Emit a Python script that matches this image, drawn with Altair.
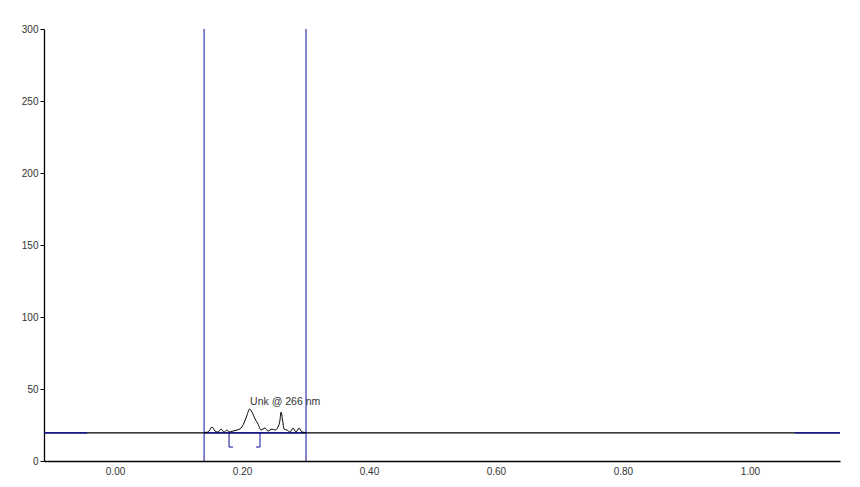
import altair as alt
import pandas as pd

# Chromatogram trace (retention time, response)
trace_x = [0.1402, 0.1465, 0.1528, 0.1575, 0.1622, 0.1669, 0.1717, 0.1764, 0.1795,
           0.1858, 0.1921, 0.1984, 0.2031, 0.2079, 0.2118, 0.2157, 0.2205, 0.2252,
           0.2299, 0.2362, 0.2409, 0.2472, 0.2520, 0.2567, 0.2598, 0.2614, 0.2638,
           0.2661, 0.2709, 0.2756, 0.2803, 0.2850, 0.2898, 0.2945, 0.3008]
trace_y = [19.8, 20.1, 23.6, 20.8, 20.1, 22.2, 20.1, 21.5, 20.1,
           20.8, 21.5, 22.9, 26.4, 31.9, 36.1, 34.0, 29.2, 25.7,
           21.5, 22.9, 20.8, 22.2, 21.5, 23.6, 28.5, 34.0, 28.5,
           22.2, 21.5, 20.1, 22.9, 20.1, 22.9, 20.1, 19.8]

x_min, x_max = -0.112, 1.142
baseline = 19.5
window = [0.1402, 0.3008]          # vertical blue markers
blue_segments = [(-0.112, -0.044), (0.1402, 0.3008), (1.071, 1.142)]
peak_start, peak_end = 0.1795, 0.2283
bracket_low = 9.7
bracket_tick = 0.0063
label_text = "Unk @ 266 nm"
label_x, label_y = 0.2126, 41.0

x_ticks = [0.0, 0.2, 0.4, 0.6, 0.8, 1.0]
y_ticks = [0, 50, 100, 150, 200, 250, 300]

BLUE = "#0e0ea0"

xs = alt.Scale(domain=[x_min, x_max], nice=False, zero=False)
ys = alt.Scale(domain=[0, 300], nice=False)

xaxis = alt.Axis(values=x_ticks, format=".2f", ticks=False, grid=False, title=None,
                 labelFont="Liberation Sans", labelFontSize=10, labelColor="#333333",
                 domainColor="black", domainWidth=1.3, labelPadding=5)
yaxis = alt.Axis(values=y_ticks, format="d", grid=False, title=None, tickSize=4,
                 tickColor="black", domainColor="black", domainWidth=1.3,
                 labelFont="Liberation Sans", labelFontSize=10, labelColor="#333333",
                 labelPadding=2)

df_base = pd.DataFrame({"x": [x_min], "x2": [x_max], "y": [baseline]})
base_line = alt.Chart(df_base).mark_rule(color="black", strokeWidth=1.2).encode(
    x=alt.X("x:Q", scale=xs, axis=xaxis), x2="x2:Q",
    y=alt.Y("y:Q", scale=ys, axis=yaxis))

df_blue = pd.DataFrame({"x": [s[0] for s in blue_segments],
                        "x2": [s[1] for s in blue_segments],
                        "y": [baseline] * len(blue_segments)})
blue_h = alt.Chart(df_blue).mark_rule(color=BLUE, strokeWidth=1.2).encode(
    x=alt.X("x:Q", scale=xs), x2="x2:Q", y=alt.Y("y:Q", scale=ys))

df_v = pd.DataFrame({"x": window, "y": [0, 0], "y2": [300, 300]})
vlines = alt.Chart(df_v).mark_rule(color=BLUE, strokeWidth=1).encode(
    x=alt.X("x:Q", scale=xs), y=alt.Y("y:Q", scale=ys), y2="y2:Q")

df_trace = pd.DataFrame({"x": trace_x, "y": trace_y, "o": list(range(len(trace_x)))})
trace = alt.Chart(df_trace).mark_line(color="black", strokeWidth=1, interpolate="monotone").encode(
    x=alt.X("x:Q", scale=xs), y=alt.Y("y:Q", scale=ys), order="o:Q")

# peak brackets
df_br_v = pd.DataFrame({"x": [peak_start, peak_end], "y": [bracket_low] * 2, "y2": [baseline] * 2})
br_v = alt.Chart(df_br_v).mark_rule(color=BLUE, strokeWidth=1).encode(
    x=alt.X("x:Q", scale=xs), y=alt.Y("y:Q", scale=ys), y2="y2:Q")
df_br_h = pd.DataFrame({"x": [peak_start, peak_end - bracket_tick],
                        "x2": [peak_start + bracket_tick, peak_end],
                        "y": [bracket_low] * 2})
br_h = alt.Chart(df_br_h).mark_rule(color=BLUE, strokeWidth=1).encode(
    x=alt.X("x:Q", scale=xs), x2="x2:Q", y=alt.Y("y:Q", scale=ys))

df_lbl = pd.DataFrame({"x": [label_x], "y": [label_y], "t": [label_text]})
label = alt.Chart(df_lbl).mark_text(align="left", baseline="middle", font="Liberation Sans",
                                    fontSize=10.5, color="#333333").encode(
    x=alt.X("x:Q", scale=xs), y=alt.Y("y:Q", scale=ys), text="t:N")

chart = alt.layer(base_line, blue_h, vlines, trace, br_v, br_h, label).properties(
    width=796, height=432,
    autosize=alt.AutoSizeParams(type="none"),
    padding={"left": 36, "top": 21, "right": 10, "bottom": 22},
    background="white",
).configure_view(stroke=None)

chart.save("out.html", embed_options={"renderer": "svg", "actions": False})
